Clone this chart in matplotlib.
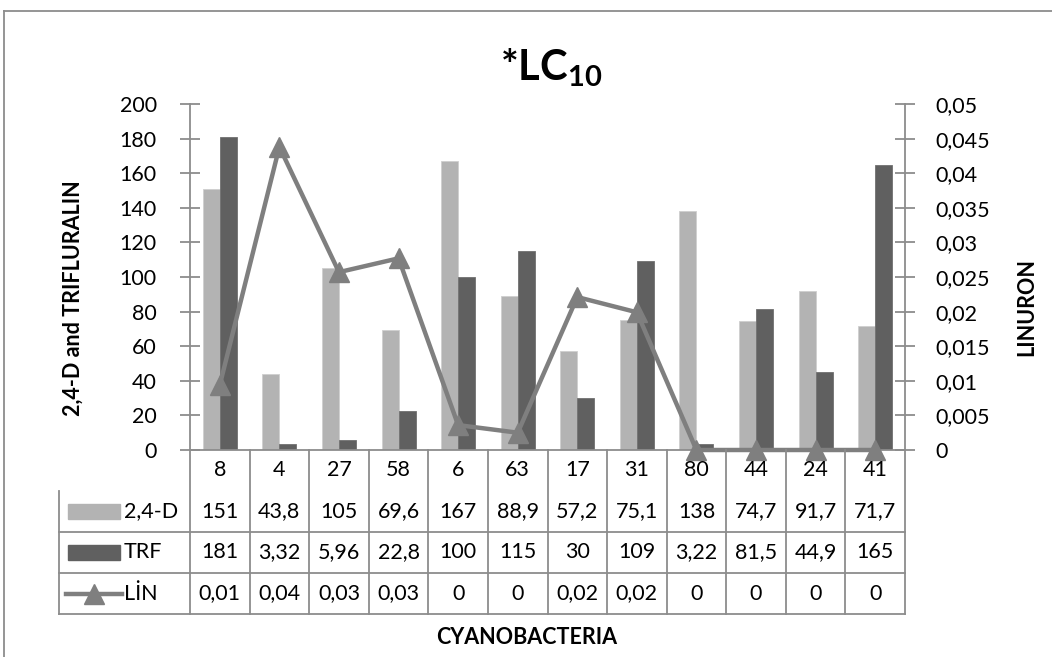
import numpy as np
import matplotlib
matplotlib.use('Agg')
import matplotlib.pyplot as plt
from matplotlib.patches import Rectangle
from matplotlib.lines import Line2D

plt.rcParams['font.family'] = ['Lato', 'DejaVu Sans']
plt.rcParams['mathtext.fontset'] = 'custom'
plt.rcParams['mathtext.rm'] = 'Lato'
plt.rcParams['mathtext.bf'] = 'Lato:bold'

# --- data ---
categories = ['8', '4', '27', '58', '6', '63', '17', '31', '80', '44', '24', '41']
d24 = [151, 43.8, 105, 69.6, 167, 88.9, 57.2, 75.1, 138, 74.7, 91.7, 71.7]
trf = [181, 3.32, 5.96, 22.8, 100, 115, 30, 109, 3.22, 81.5, 44.9, 165]
lin = [0.0094, 0.0438, 0.0257, 0.0277, 0.0036, 0.0025, 0.0221, 0.0199, 0, 0, 0, 0]
series_names = ['2,4-D', 'TRF', 'LİN']

C_D24 = '#B3B3B3'
C_TRF = '#606060'
C_LIN = '#7F7F7F'
C_AX = '#8C8C8C'
FS = 15.5
FS_LAB = 15.5

W, H = 1052, 657
fig = plt.figure(figsize=(W / 100, H / 100), dpi=100)


def px(x0, y0, x1, y1):
    # pixel box (top-left origin) -> figure fraction rect
    return [x0 / W, 1 - y1 / H, (x1 - x0) / W, (y1 - y0) / H]


# outer chart border (left and top only visible)
fig.add_artist(Line2D([4 / W, 4 / W], [0, 1 - 11 / H], color=C_AX, lw=1.3))
fig.add_artist(Line2D([4 / W, 1], [1 - 11 / H, 1 - 11 / H], color=C_AX, lw=1.3))

ax = fig.add_axes(px(190, 104, 905, 450))
x = np.arange(len(categories))
bw = 0.285
ax.bar(x - bw / 2, d24, width=bw, color=C_D24, edgecolor='#CFCFCF', lw=0.6, zorder=2)
ax.bar(x + bw / 2, trf, width=bw, color=C_TRF, edgecolor='#707070', lw=0.6, zorder=2)
ax.set_xlim(-0.5, len(categories) - 0.5)
ax.set_ylim(0, 200)
ax.set_yticks(np.arange(0, 201, 20))
ax.set_xticks([])
for s in ['top', 'right']:
    ax.spines[s].set_visible(False)
ax.spines['left'].set_color(C_AX)
ax.spines['bottom'].set_color(C_AX)
ax.spines['left'].set_linewidth(1.3)
ax.spines['bottom'].set_linewidth(1.3)
ax.tick_params(axis='y', direction='inout', length=14, width=1.3, color=C_AX,
               labelsize=FS, pad=17)
ax.patch.set_alpha(0)

ax2 = ax.twinx()
ax2.plot(x, lin, color=C_LIN, lw=3.2, marker='^', markersize=15, clip_on=False, zorder=5)
ax2.set_ylim(0, 0.05)
ax2.set_yticks(np.arange(0, 0.0501, 0.005))
ax2.set_yticklabels(['0'] + [f'{v:g}'.replace('.', ',') for v in np.arange(0.005, 0.0501, 0.005).round(3)])
for s in ['top', 'left', 'bottom']:
    ax2.spines[s].set_visible(False)
ax2.spines['right'].set_color(C_AX)
ax2.spines['right'].set_linewidth(1.3)
ax2.tick_params(axis='y', direction='inout', length=14, width=1.3, color=C_AX,
                labelsize=FS, pad=15)

# --- data table below the plot ---
lab_w = (190 - 59) / ((905 - 190) / len(categories))
tax = fig.add_axes(px(59, 450, 905, 614))
tax.set_xlim(-0.5 - lab_w, len(categories) - 0.5)
tax.set_ylim(4, 0)
tax.axis('off')
n = len(categories)
lk = dict(color=C_AX, lw=1.3, clip_on=False)
for r in range(2, 5):
    tax.plot([-0.5 - lab_w, n - 0.5], [r, r], **lk)
tax.plot([-0.5 - lab_w, -0.5 - lab_w], [1, 4], **lk)
for b in np.arange(-0.5, n, 1.0):
    tax.plot([b, b], [0, 4], **lk)

def fmt(v):
    return f'{v:g}'.replace('.', ',')

rows = [[fmt(v) for v in d24], [fmt(v) for v in trf], [fmt(round(v, 2)) for v in lin]]
for i, c in enumerate(categories):
    tax.text(i, 0.5, c, ha='center', va='center', fontsize=FS)
    for r in range(3):
        tax.text(i, r + 1.5, rows[r][i], ha='center', va='center', fontsize=FS)

# legend keys inside the label column
kx0 = -0.5 - lab_w + (68 - 59) / 59.6
kx1 = -0.5 - lab_w + (120 - 59) / 59.6
tx = -0.5 - lab_w + (124 - 59) / 59.6
tax.add_patch(Rectangle((kx0, 1.5 - 0.18), kx1 - kx0, 0.36, color=C_D24, clip_on=False))
tax.add_patch(Rectangle((kx0, 2.5 - 0.18), kx1 - kx0, 0.36, color=C_TRF, clip_on=False))
tax.plot([kx0 - 0.03, kx1 + 0.03], [3.5, 3.5], color=C_LIN, lw=3.2, clip_on=False)
tax.plot([(kx0 + kx1) / 2], [3.5], marker='^', color=C_LIN, markersize=15, clip_on=False)
for r, name in enumerate(series_names):
    tax.text(tx, r + 1.5, name, ha='left', va='center', fontsize=FS)

# --- titles and axis labels ---
fig.text(551 / W, 1 - 80 / H, r'*LC$_{\mathbf{10}}$', fontsize=30, fontweight='bold',
         ha='center', va='baseline')
fig.text(73 / W, 1 - 298 / H, '2,4-D and TRIFLURALIN', rotation=90, fontsize=FS_LAB,
         fontweight='bold', ha='center', va='center')
fig.text(1027 / W, 1 - 307 / H, 'LINURON', rotation=90, fontsize=FS_LAB,
         fontweight='bold', ha='center', va='center')
fig.text(527 / W, 1 - 638 / H, 'CYANOBACTERIA', fontsize=FS_LAB,
         fontweight='bold', ha='center', va='center')

fig.savefig('out.png', dpi=100)
